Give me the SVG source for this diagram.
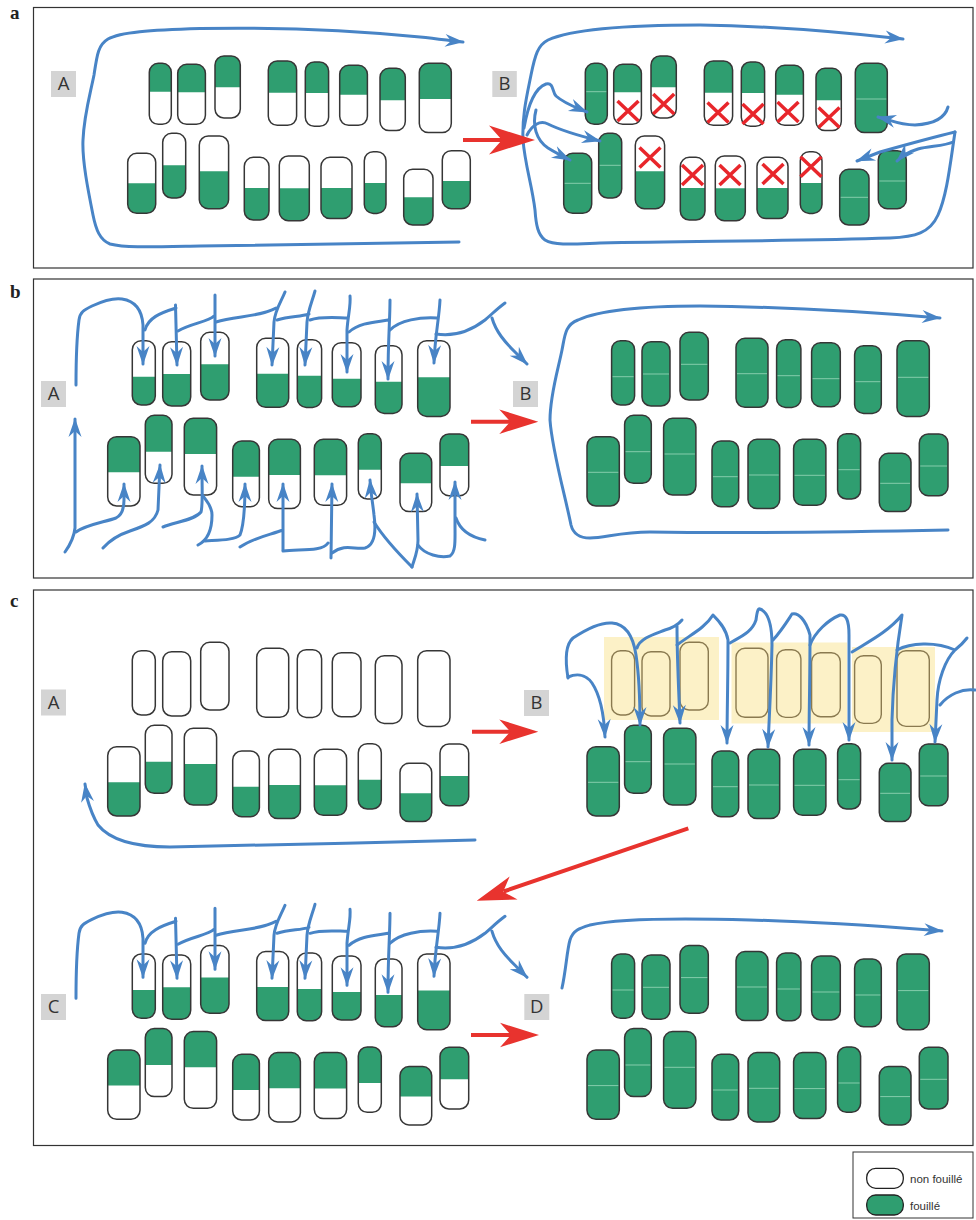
<svg xmlns="http://www.w3.org/2000/svg" width="976" height="1220" viewBox="0 0 976 1220">
<style>
.o{fill:none;stroke:#363636;stroke-width:1.5}
.g{fill:#2f9e70}
.f{fill:#2f9e70;stroke:#363636;stroke-width:1.5}
.l{fill:none;stroke:#8fd1b2;stroke-width:0.9}
.p{fill:none;stroke:#8a7a50;stroke-width:1.4}
.fr{fill:none;stroke:#333;stroke-width:1.2}
.bl{fill:none;stroke:#4884c6;stroke-width:3;stroke-linecap:round;stroke-linejoin:round}
.ar{marker-end:url(#ab)}
.rl{fill:none;stroke:#e8332e;stroke-width:4}
.rh{fill:#e8332e}
.x{fill:none;stroke:#e8262b;stroke-width:3.5}
.lb{fill:#d4d4d4}
.lt{font-family:"Open Sans","Liberation Sans",sans-serif;font-size:18.5px;fill:#333;text-anchor:middle}
.pl{font-family:"Liberation Serif",serif;font-weight:bold;font-size:19px;fill:#222}
.lg{font-family:"Liberation Sans",Arial,sans-serif;font-size:11.5px;fill:#333}
.yz{fill:#fcf1c7}
</style>
<defs>
<marker id="ab" viewBox="-20 -8 22 16" refX="0" refY="0" markerWidth="22" markerHeight="16" markerUnits="userSpaceOnUse" orient="auto"><path d="M1,0 L-18,-6.5 L-12,0 L-18,6.5 Z" fill="#4884c6"/></marker>
<path id="rhd" d="M0,0 L-39,-12.2 L-28,0 L-39,12.2 Z"/>
<path id="xm" d="M-10.5,-10 L10.5,10 M10.5,-10 L-10.5,10"/>
<rect id="rAt1" x="149.3" y="63.3" width="22" height="61" rx="9"/>
<rect id="rAt2" x="177.7" y="64.3" width="27.7" height="60" rx="9"/>
<rect id="rAt3" x="215" y="56" width="25.3" height="62" rx="9"/>
<rect id="rAt4" x="268.3" y="61" width="28.3" height="64.3" rx="9"/>
<rect id="rAt5" x="305.3" y="62" width="23.3" height="64.3" rx="9"/>
<rect id="rAt6" x="339.7" y="65.3" width="27.7" height="60" rx="9"/>
<rect id="rAt7" x="380" y="68.3" width="25.3" height="62.3" rx="9"/>
<rect id="rAt8" x="419.3" y="63.3" width="32" height="69.3" rx="9"/>
<rect id="rAb1" x="127.7" y="153.3" width="28" height="60" rx="9"/>
<rect id="rAb2" x="162.7" y="133.3" width="23" height="64.7" rx="9"/>
<rect id="rAb3" x="199.3" y="136" width="29.3" height="72.7" rx="9"/>
<rect id="rAb4" x="244.3" y="157.3" width="24.7" height="62.7" rx="9"/>
<rect id="rAb5" x="279.3" y="156" width="30" height="64.7" rx="9"/>
<rect id="rAb6" x="321" y="157.3" width="31" height="61.3" rx="9"/>
<rect id="rAb7" x="364.3" y="151.7" width="21.7" height="61.7" rx="9"/>
<rect id="rAb8" x="403.7" y="169.3" width="29.3" height="55.7" rx="9"/>
<rect id="rAb9" x="442.3" y="150.7" width="28" height="58" rx="9"/>
<path id="gAt1" d="M149.3,91.7 V72.3 A9 9 0 0 1 158.3,63.3 H162.3 A9 9 0 0 1 171.3,72.3 V91.7Z"/>
<path id="gAt2" d="M177.7,92.3 V73.3 A9 9 0 0 1 186.7,64.3 H196.4 A9 9 0 0 1 205.4,73.3 V92.3Z"/>
<path id="gAt3" d="M215,87.3 V65 A9 9 0 0 1 224,56 H231.3 A9 9 0 0 1 240.3,65 V87.3Z"/>
<path id="gAt4" d="M268.3,92.7 V70 A9 9 0 0 1 277.3,61 H287.6 A9 9 0 0 1 296.6,70 V92.7Z"/>
<path id="gAt5" d="M305.3,93 V71 A9 9 0 0 1 314.3,62 H319.6 A9 9 0 0 1 328.6,71 V93Z"/>
<path id="gAt6" d="M339.7,94.7 V74.3 A9 9 0 0 1 348.7,65.3 H358.4 A9 9 0 0 1 367.4,74.3 V94.7Z"/>
<path id="gAt7" d="M380,100.3 V77.3 A9 9 0 0 1 389,68.3 H396.3 A9 9 0 0 1 405.3,77.3 V100.3Z"/>
<path id="gAt8" d="M419.3,99 V72.3 A9 9 0 0 1 428.3,63.3 H442.3 A9 9 0 0 1 451.3,72.3 V99Z"/>
<path id="gAb1" d="M127.7,183.3 V204.3 A9 9 0 0 0 136.7,213.3 H146.7 A9 9 0 0 0 155.7,204.3 V183.3Z"/>
<path id="gAb2" d="M162.7,165.3 V189 A9 9 0 0 0 171.7,198 H176.7 A9 9 0 0 0 185.7,189 V165.3Z"/>
<path id="gAb3" d="M199.3,171.3 V199.7 A9 9 0 0 0 208.3,208.7 H219.6 A9 9 0 0 0 228.6,199.7 V171.3Z"/>
<path id="gAb4" d="M244.3,188 V211 A9 9 0 0 0 253.3,220 H260 A9 9 0 0 0 269,211 V188Z"/>
<path id="gAb5" d="M279.3,188.3 V211.7 A9 9 0 0 0 288.3,220.7 H300.3 A9 9 0 0 0 309.3,211.7 V188.3Z"/>
<path id="gAb6" d="M321,188 V209.6 A9 9 0 0 0 330,218.6 H343 A9 9 0 0 0 352,209.6 V188Z"/>
<path id="gAb7" d="M364.3,183 V204.4 A9 9 0 0 0 373.3,213.4 H377 A9 9 0 0 0 386,204.4 V183Z"/>
<path id="gAb8" d="M403.7,197.3 V216 A9 9 0 0 0 412.7,225 H424 A9 9 0 0 0 433,216 V197.3Z"/>
<path id="gAb9" d="M442.3,181 V199.7 A9 9 0 0 0 451.3,208.7 H461.3 A9 9 0 0 0 470.3,199.7 V181Z"/>
<path id="lAt1" d="M150.3,91.7 H170.3"/>
<path id="lAt8" d="M420.3,99 H450.3"/>
<path id="lAb1" d="M128.7,183.3 H154.7"/>
<path id="lAb2" d="M163.7,165.3 H184.7"/>
<path id="lAb8" d="M404.7,197.3 H432"/>
<path id="lAb9" d="M443.3,181 H469.3"/>
<rect id="rBt1" x="132.3" y="340.7" width="23" height="64.3" rx="9"/>
<rect id="rBt2" x="162.7" y="341.7" width="28" height="64.3" rx="9"/>
<rect id="rBt3" x="200.7" y="332.3" width="28.3" height="67.7" rx="9"/>
<rect id="rBt4" x="256.7" y="338.3" width="32" height="69" rx="9"/>
<rect id="rBt5" x="297.3" y="339.7" width="24.3" height="67.7" rx="9"/>
<rect id="rBt6" x="332.3" y="342.7" width="28.7" height="64" rx="9"/>
<rect id="rBt7" x="375.3" y="345.7" width="26.7" height="67.7" rx="9"/>
<rect id="rBt8" x="417.7" y="340.7" width="32.3" height="75.7" rx="9"/>
<rect id="rBb1" x="107.7" y="436.7" width="32.3" height="69.3" rx="9"/>
<rect id="rBb2" x="145.3" y="415.3" width="26.7" height="68" rx="9"/>
<rect id="rBb3" x="184.3" y="418.3" width="32.3" height="76.7" rx="9"/>
<rect id="rBb4" x="232.7" y="441" width="26.7" height="65.7" rx="9"/>
<rect id="rBb5" x="268.7" y="439.3" width="31.7" height="69.3" rx="9"/>
<rect id="rBb6" x="314.3" y="439.3" width="32.3" height="66" rx="9"/>
<rect id="rBb7" x="358.3" y="433.7" width="23" height="65.3" rx="9"/>
<rect id="rBb8" x="400" y="453.3" width="31.7" height="58.3" rx="9"/>
<rect id="rBb9" x="440" y="434" width="28.7" height="61.7" rx="9"/>
<path id="gBt1" d="M132.3,376.7 V396 A9 9 0 0 0 141.3,405 H146.3 A9 9 0 0 0 155.3,396 V376.7Z"/>
<path id="gBt2" d="M162.7,374 V397 A9 9 0 0 0 171.7,406 H181.7 A9 9 0 0 0 190.7,397 V374Z"/>
<path id="gBt3" d="M200.7,364.3 V391 A9 9 0 0 0 209.7,400 H220 A9 9 0 0 0 229,391 V364.3Z"/>
<path id="gBt4" d="M256.7,373.7 V398.3 A9 9 0 0 0 265.7,407.3 H279.7 A9 9 0 0 0 288.7,398.3 V373.7Z"/>
<path id="gBt5" d="M297.3,375.7 V398.4 A9 9 0 0 0 306.3,407.4 H312.6 A9 9 0 0 0 321.6,398.4 V375.7Z"/>
<path id="gBt6" d="M332.3,378.7 V397.7 A9 9 0 0 0 341.3,406.7 H352 A9 9 0 0 0 361,397.7 V378.7Z"/>
<path id="gBt7" d="M375.3,381.7 V404.4 A9 9 0 0 0 384.3,413.4 H393 A9 9 0 0 0 402,404.4 V381.7Z"/>
<path id="gBt8" d="M417.7,377.3 V407.4 A9 9 0 0 0 426.7,416.4 H441 A9 9 0 0 0 450,407.4 V377.3Z"/>
<path id="gBbT1" d="M107.7,472.3 V445.7 A9 9 0 0 1 116.7,436.7 H131 A9 9 0 0 1 140,445.7 V472.3Z"/>
<path id="gBbT2" d="M145.3,451.7 V424.3 A9 9 0 0 1 154.3,415.3 H163 A9 9 0 0 1 172,424.3 V451.7Z"/>
<path id="gBbT3" d="M184.3,454 V427.3 A9 9 0 0 1 193.3,418.3 H207.6 A9 9 0 0 1 216.6,427.3 V454Z"/>
<path id="gBbT4" d="M232.7,476.7 V450 A9 9 0 0 1 241.7,441 H250.4 A9 9 0 0 1 259.4,450 V476.7Z"/>
<path id="gBbT5" d="M268.7,475 V448.3 A9 9 0 0 1 277.7,439.3 H291.4 A9 9 0 0 1 300.4,448.3 V475Z"/>
<path id="gBbT6" d="M314.3,475.3 V448.3 A9 9 0 0 1 323.3,439.3 H337.6 A9 9 0 0 1 346.6,448.3 V475.3Z"/>
<path id="gBbT7" d="M358.3,469.7 V442.7 A9 9 0 0 1 367.3,433.7 H372.3 A9 9 0 0 1 381.3,442.7 V469.7Z"/>
<path id="gBbT8" d="M400,483.3 V462.3 A9 9 0 0 1 409,453.3 H422.7 A9 9 0 0 1 431.7,462.3 V483.3Z"/>
<path id="gBbT9" d="M440,466 V443 A9 9 0 0 1 449,434 H459.7 A9 9 0 0 1 468.7,443 V466Z"/>
<path id="gBbB1" d="M107.7,472.3 V497 A9 9 0 0 0 116.7,506 H131 A9 9 0 0 0 140,497 V472.3Z"/>
<path id="gBbB2" d="M145.3,451.7 V474.3 A9 9 0 0 0 154.3,483.3 H163 A9 9 0 0 0 172,474.3 V451.7Z"/>
<path id="gBbB3" d="M184.3,454 V486 A9 9 0 0 0 193.3,495 H207.6 A9 9 0 0 0 216.6,486 V454Z"/>
<path id="gBbB4" d="M232.7,476.7 V497.7 A9 9 0 0 0 241.7,506.7 H250.4 A9 9 0 0 0 259.4,497.7 V476.7Z"/>
<path id="gBbB5" d="M268.7,475 V499.6 A9 9 0 0 0 277.7,508.6 H291.4 A9 9 0 0 0 300.4,499.6 V475Z"/>
<path id="gBbB6" d="M314.3,475.3 V496.3 A9 9 0 0 0 323.3,505.3 H337.6 A9 9 0 0 0 346.6,496.3 V475.3Z"/>
<path id="gBbB7" d="M358.3,469.7 V490 A9 9 0 0 0 367.3,499 H372.3 A9 9 0 0 0 381.3,490 V469.7Z"/>
<path id="gBbB8" d="M400,483.3 V502.6 A9 9 0 0 0 409,511.6 H422.7 A9 9 0 0 0 431.7,502.6 V483.3Z"/>
<path id="gBbB9" d="M440,466 V486.7 A9 9 0 0 0 449,495.7 H459.7 A9 9 0 0 0 468.7,486.7 V466Z"/>
<path id="lBt1" d="M133.3,376.7 H154.3"/>
<path id="lBt2" d="M163.7,374 H189.7"/>
<path id="lBt3" d="M201.7,364.3 H228"/>
<path id="lBt4" d="M257.7,373.7 H287.7"/>
<path id="lBt5" d="M298.3,375.7 H320.6"/>
<path id="lBt6" d="M333.3,378.7 H360"/>
<path id="lBt7" d="M376.3,381.7 H401"/>
<path id="lBt8" d="M418.7,377.3 H449"/>
<path id="lBb1" d="M108.7,472.3 H139"/>
<path id="lBb2" d="M146.3,451.7 H171"/>
<path id="lBb3" d="M185.3,454 H215.6"/>
<path id="lBb4" d="M233.7,476.7 H258.4"/>
<path id="lBb5" d="M269.7,475 H299.4"/>
<path id="lBb6" d="M315.3,475.3 H345.6"/>
<path id="lBb7" d="M359.3,469.7 H380.3"/>
<path id="lBb8" d="M401,483.3 H430.7"/>
<path id="lBb9" d="M441,466 H467.7"/>
</defs>

<rect width="976" height="1220" fill="#fff"/>

<g id="frames">
<rect class="fr" x="33.5" y="7.5" width="939.5" height="260.5"/>
<rect class="fr" x="33.5" y="279" width="939.5" height="299"/>
<rect class="fr" x="33.5" y="590" width="939.5" height="555.5"/>
<text class="pl" x="10" y="19">a</text>
<text class="pl" x="10" y="298">b</text>
<text class="pl" x="10" y="607">c</text>
</g>

<g id="labels">
<g id="lab-a-A"><rect class="lb" x="51" y="71" width="25" height="26"/><text class="lt" x="63.5" y="90">A</text></g>
<g id="lab-a-B"><rect class="lb" x="492.3" y="71" width="24.5" height="26"/><text class="lt" x="504.5" y="90">B</text></g>
<g id="lab-b-A"><rect class="lb" x="41" y="381" width="25" height="26"/><text class="lt" x="53.5" y="400">A</text></g>
<g id="lab-b-B"><rect class="lb" x="513" y="381" width="25" height="26"/><text class="lt" x="525.5" y="400">B</text></g>
<g id="lab-c-A"><rect class="lb" x="41" y="689.5" width="25" height="26"/><text class="lt" x="53.5" y="708.5">A</text></g>
<g id="lab-c-B"><rect class="lb" x="524" y="690" width="25" height="26"/><text class="lt" x="536.5" y="709">B</text></g>
<g id="lab-c-C"><rect class="lb" x="41" y="994" width="25" height="26"/><text class="lt" x="53.5" y="1013">C</text></g>
<g id="lab-c-D"><rect class="lb" x="524.3" y="994" width="25" height="26"/><text class="lt" x="536.8" y="1013">D</text></g>
</g>

<g id="cB-zones">
<rect class="yz" x="604" y="637" width="115" height="83"/>
<rect class="yz" x="731.5" y="642.5" width="115.5" height="81"/>
<rect class="yz" x="852" y="647" width="83" height="85"/>
</g>

<g id="panel-a-A">
<g id="aA-t1"><use href="#gAt1" class="g"/><use href="#rAt1" class="o"/></g>
<g id="aA-t2"><use href="#gAt2" class="g"/><use href="#rAt2" class="o"/></g>
<g id="aA-t3"><use href="#gAt3" class="g"/><use href="#rAt3" class="o"/></g>
<g id="aA-t4"><use href="#gAt4" class="g"/><use href="#rAt4" class="o"/></g>
<g id="aA-t5"><use href="#gAt5" class="g"/><use href="#rAt5" class="o"/></g>
<g id="aA-t6"><use href="#gAt6" class="g"/><use href="#rAt6" class="o"/></g>
<g id="aA-t7"><use href="#gAt7" class="g"/><use href="#rAt7" class="o"/></g>
<g id="aA-t8"><use href="#gAt8" class="g"/><use href="#rAt8" class="o"/></g>
<g id="aA-b1"><use href="#gAb1" class="g"/><use href="#rAb1" class="o"/></g>
<g id="aA-b2"><use href="#gAb2" class="g"/><use href="#rAb2" class="o"/></g>
<g id="aA-b3"><use href="#gAb3" class="g"/><use href="#rAb3" class="o"/></g>
<g id="aA-b4"><use href="#gAb4" class="g"/><use href="#rAb4" class="o"/></g>
<g id="aA-b5"><use href="#gAb5" class="g"/><use href="#rAb5" class="o"/></g>
<g id="aA-b6"><use href="#gAb6" class="g"/><use href="#rAb6" class="o"/></g>
<g id="aA-b7"><use href="#gAb7" class="g"/><use href="#rAb7" class="o"/></g>
<g id="aA-b8"><use href="#gAb8" class="g"/><use href="#rAb8" class="o"/></g>
<g id="aA-b9"><use href="#gAb9" class="g"/><use href="#rAb9" class="o"/></g>
</g>

<g id="panel-a-B" transform="translate(436,0)">
<g id="aB-t1"><use href="#rAt1" class="f"/><use href="#lAt1" class="l"/></g>
<g id="aB-t2"><use href="#gAt2" class="g"/><use href="#rAt2" class="o"/><use href="#xm" class="x" x="192" y="111"/></g>
<g id="aB-t3"><use href="#gAt3" class="g"/><use href="#rAt3" class="o"/><use href="#xm" class="x" x="227.7" y="104"/></g>
<g id="aB-t4"><use href="#gAt4" class="g"/><use href="#rAt4" class="o"/><use href="#xm" class="x" x="282" y="112.5"/></g>
<g id="aB-t5"><use href="#gAt5" class="g"/><use href="#rAt5" class="o"/><use href="#xm" class="x" x="317" y="114"/></g>
<g id="aB-t6"><use href="#gAt6" class="g"/><use href="#rAt6" class="o"/><use href="#xm" class="x" x="352" y="112"/></g>
<g id="aB-t7"><use href="#gAt7" class="g"/><use href="#rAt7" class="o"/><use href="#xm" class="x" x="393" y="117.5"/></g>
<g id="aB-t8"><use href="#rAt8" class="f"/><use href="#lAt8" class="l"/></g>
<g id="aB-b1"><use href="#rAb1" class="f"/><use href="#lAb1" class="l"/></g>
<g id="aB-b2"><use href="#rAb2" class="f"/><use href="#lAb2" class="l"/></g>
<g id="aB-b3"><use href="#gAb3" class="g"/><use href="#rAb3" class="o"/><use href="#xm" class="x" x="214" y="157.5"/></g>
<g id="aB-b4"><use href="#gAb4" class="g"/><use href="#rAb4" class="o"/><use href="#xm" class="x" x="256.5" y="175"/></g>
<g id="aB-b5"><use href="#gAb5" class="g"/><use href="#rAb5" class="o"/><use href="#xm" class="x" x="294" y="175"/></g>
<g id="aB-b6"><use href="#gAb6" class="g"/><use href="#rAb6" class="o"/><use href="#xm" class="x" x="337" y="174"/></g>
<g id="aB-b7"><use href="#gAb7" class="g"/><use href="#rAb7" class="o"/><use href="#xm" class="x" x="375" y="166.7"/></g>
<g id="aB-b8"><use href="#rAb8" class="f"/><use href="#lAb8" class="l"/></g>
<g id="aB-b9"><use href="#rAb9" class="f"/><use href="#lAb9" class="l"/></g>
</g>

<g id="panel-b-A">
<g id="bA-t1"><use href="#gBt1" class="g"/><use href="#rBt1" class="o"/></g>
<g id="bA-t2"><use href="#gBt2" class="g"/><use href="#rBt2" class="o"/></g>
<g id="bA-t3"><use href="#gBt3" class="g"/><use href="#rBt3" class="o"/></g>
<g id="bA-t4"><use href="#gBt4" class="g"/><use href="#rBt4" class="o"/></g>
<g id="bA-t5"><use href="#gBt5" class="g"/><use href="#rBt5" class="o"/></g>
<g id="bA-t6"><use href="#gBt6" class="g"/><use href="#rBt6" class="o"/></g>
<g id="bA-t7"><use href="#gBt7" class="g"/><use href="#rBt7" class="o"/></g>
<g id="bA-t8"><use href="#gBt8" class="g"/><use href="#rBt8" class="o"/></g>
<g id="bA-b1"><use href="#gBbT1" class="g"/><use href="#rBb1" class="o"/></g>
<g id="bA-b2"><use href="#gBbT2" class="g"/><use href="#rBb2" class="o"/></g>
<g id="bA-b3"><use href="#gBbT3" class="g"/><use href="#rBb3" class="o"/></g>
<g id="bA-b4"><use href="#gBbT4" class="g"/><use href="#rBb4" class="o"/></g>
<g id="bA-b5"><use href="#gBbT5" class="g"/><use href="#rBb5" class="o"/></g>
<g id="bA-b6"><use href="#gBbT6" class="g"/><use href="#rBb6" class="o"/></g>
<g id="bA-b7"><use href="#gBbT7" class="g"/><use href="#rBb7" class="o"/></g>
<g id="bA-b8"><use href="#gBbT8" class="g"/><use href="#rBb8" class="o"/></g>
<g id="bA-b9"><use href="#gBbT9" class="g"/><use href="#rBb9" class="o"/></g>
</g>

<g id="panel-b-B" transform="translate(479.3,0)">
<g id="bB-t1"><use href="#rBt1" class="f"/><use href="#lBt1" class="l"/></g>
<g id="bB-t2"><use href="#rBt2" class="f"/><use href="#lBt2" class="l"/></g>
<g id="bB-t3"><use href="#rBt3" class="f"/><use href="#lBt3" class="l"/></g>
<g id="bB-t4"><use href="#rBt4" class="f"/><use href="#lBt4" class="l"/></g>
<g id="bB-t5"><use href="#rBt5" class="f"/><use href="#lBt5" class="l"/></g>
<g id="bB-t6"><use href="#rBt6" class="f"/><use href="#lBt6" class="l"/></g>
<g id="bB-t7"><use href="#rBt7" class="f"/><use href="#lBt7" class="l"/></g>
<g id="bB-t8"><use href="#rBt8" class="f"/><use href="#lBt8" class="l"/></g>
<g id="bB-b1"><use href="#rBb1" class="f"/><use href="#lBb1" class="l"/></g>
<g id="bB-b2"><use href="#rBb2" class="f"/><use href="#lBb2" class="l"/></g>
<g id="bB-b3"><use href="#rBb3" class="f"/><use href="#lBb3" class="l"/></g>
<g id="bB-b4"><use href="#rBb4" class="f"/><use href="#lBb4" class="l"/></g>
<g id="bB-b5"><use href="#rBb5" class="f"/><use href="#lBb5" class="l"/></g>
<g id="bB-b6"><use href="#rBb6" class="f"/><use href="#lBb6" class="l"/></g>
<g id="bB-b7"><use href="#rBb7" class="f"/><use href="#lBb7" class="l"/></g>
<g id="bB-b8"><use href="#rBb8" class="f"/><use href="#lBb8" class="l"/></g>
<g id="bB-b9"><use href="#rBb9" class="f"/><use href="#lBb9" class="l"/></g>
</g>

<g id="panel-c-A" transform="translate(0,310)">
<g id="cA-t1"><use href="#rBt1" class="o"/></g>
<g id="cA-t2"><use href="#rBt2" class="o"/></g>
<g id="cA-t3"><use href="#rBt3" class="o"/></g>
<g id="cA-t4"><use href="#rBt4" class="o"/></g>
<g id="cA-t5"><use href="#rBt5" class="o"/></g>
<g id="cA-t6"><use href="#rBt6" class="o"/></g>
<g id="cA-t7"><use href="#rBt7" class="o"/></g>
<g id="cA-t8"><use href="#rBt8" class="o"/></g>
<g id="cA-b1"><use href="#gBbB1" class="g"/><use href="#rBb1" class="o"/></g>
<g id="cA-b2"><use href="#gBbB2" class="g"/><use href="#rBb2" class="o"/></g>
<g id="cA-b3"><use href="#gBbB3" class="g"/><use href="#rBb3" class="o"/></g>
<g id="cA-b4"><use href="#gBbB4" class="g"/><use href="#rBb4" class="o"/></g>
<g id="cA-b5"><use href="#gBbB5" class="g"/><use href="#rBb5" class="o"/></g>
<g id="cA-b6"><use href="#gBbB6" class="g"/><use href="#rBb6" class="o"/></g>
<g id="cA-b7"><use href="#gBbB7" class="g"/><use href="#rBb7" class="o"/></g>
<g id="cA-b8"><use href="#gBbB8" class="g"/><use href="#rBb8" class="o"/></g>
<g id="cA-b9"><use href="#gBbB9" class="g"/><use href="#rBb9" class="o"/></g>
</g>

<g id="panel-c-B" transform="translate(479.3,310)">
<g id="cB-t1"><use href="#rBt1" class="p"/></g>
<g id="cB-t2"><use href="#rBt2" class="p"/></g>
<g id="cB-t3"><use href="#rBt3" class="p"/></g>
<g id="cB-t4"><use href="#rBt4" class="p"/></g>
<g id="cB-t5"><use href="#rBt5" class="p"/></g>
<g id="cB-t6"><use href="#rBt6" class="p"/></g>
<g id="cB-t7"><use href="#rBt7" class="p"/></g>
<g id="cB-t8"><use href="#rBt8" class="p"/></g>
<g id="cB-b1"><use href="#rBb1" class="f"/><use href="#lBb1" class="l"/></g>
<g id="cB-b2"><use href="#rBb2" class="f"/><use href="#lBb2" class="l"/></g>
<g id="cB-b3"><use href="#rBb3" class="f"/><use href="#lBb3" class="l"/></g>
<g id="cB-b4"><use href="#rBb4" class="f"/><use href="#lBb4" class="l"/></g>
<g id="cB-b5"><use href="#rBb5" class="f"/><use href="#lBb5" class="l"/></g>
<g id="cB-b6"><use href="#rBb6" class="f"/><use href="#lBb6" class="l"/></g>
<g id="cB-b7"><use href="#rBb7" class="f"/><use href="#lBb7" class="l"/></g>
<g id="cB-b8"><use href="#rBb8" class="f"/><use href="#lBb8" class="l"/></g>
<g id="cB-b9"><use href="#rBb9" class="f"/><use href="#lBb9" class="l"/></g>
</g>

<g id="panel-c-C" transform="translate(0,613.3)">
<g id="cC-t1"><use href="#gBt1" class="g"/><use href="#rBt1" class="o"/></g>
<g id="cC-t2"><use href="#gBt2" class="g"/><use href="#rBt2" class="o"/></g>
<g id="cC-t3"><use href="#gBt3" class="g"/><use href="#rBt3" class="o"/></g>
<g id="cC-t4"><use href="#gBt4" class="g"/><use href="#rBt4" class="o"/></g>
<g id="cC-t5"><use href="#gBt5" class="g"/><use href="#rBt5" class="o"/></g>
<g id="cC-t6"><use href="#gBt6" class="g"/><use href="#rBt6" class="o"/></g>
<g id="cC-t7"><use href="#gBt7" class="g"/><use href="#rBt7" class="o"/></g>
<g id="cC-t8"><use href="#gBt8" class="g"/><use href="#rBt8" class="o"/></g>
<g id="cC-b1"><use href="#gBbT1" class="g"/><use href="#rBb1" class="o"/></g>
<g id="cC-b2"><use href="#gBbT2" class="g"/><use href="#rBb2" class="o"/></g>
<g id="cC-b3"><use href="#gBbT3" class="g"/><use href="#rBb3" class="o"/></g>
<g id="cC-b4"><use href="#gBbT4" class="g"/><use href="#rBb4" class="o"/></g>
<g id="cC-b5"><use href="#gBbT5" class="g"/><use href="#rBb5" class="o"/></g>
<g id="cC-b6"><use href="#gBbT6" class="g"/><use href="#rBb6" class="o"/></g>
<g id="cC-b7"><use href="#gBbT7" class="g"/><use href="#rBb7" class="o"/></g>
<g id="cC-b8"><use href="#gBbT8" class="g"/><use href="#rBb8" class="o"/></g>
<g id="cC-b9"><use href="#gBbT9" class="g"/><use href="#rBb9" class="o"/></g>
</g>

<g id="panel-c-D" transform="translate(479.3,613.3)">
<g id="cD-t1"><use href="#rBt1" class="f"/><use href="#lBt1" class="l"/></g>
<g id="cD-t2"><use href="#rBt2" class="f"/><use href="#lBt2" class="l"/></g>
<g id="cD-t3"><use href="#rBt3" class="f"/><use href="#lBt3" class="l"/></g>
<g id="cD-t4"><use href="#rBt4" class="f"/><use href="#lBt4" class="l"/></g>
<g id="cD-t5"><use href="#rBt5" class="f"/><use href="#lBt5" class="l"/></g>
<g id="cD-t6"><use href="#rBt6" class="f"/><use href="#lBt6" class="l"/></g>
<g id="cD-t7"><use href="#rBt7" class="f"/><use href="#lBt7" class="l"/></g>
<g id="cD-t8"><use href="#rBt8" class="f"/><use href="#lBt8" class="l"/></g>
<g id="cD-b1"><use href="#rBb1" class="f"/><use href="#lBb1" class="l"/></g>
<g id="cD-b2"><use href="#rBb2" class="f"/><use href="#lBb2" class="l"/></g>
<g id="cD-b3"><use href="#rBb3" class="f"/><use href="#lBb3" class="l"/></g>
<g id="cD-b4"><use href="#rBb4" class="f"/><use href="#lBb4" class="l"/></g>
<g id="cD-b5"><use href="#rBb5" class="f"/><use href="#lBb5" class="l"/></g>
<g id="cD-b6"><use href="#rBb6" class="f"/><use href="#lBb6" class="l"/></g>
<g id="cD-b7"><use href="#rBb7" class="f"/><use href="#lBb7" class="l"/></g>
<g id="cD-b8"><use href="#rBb8" class="f"/><use href="#lBb8" class="l"/></g>
<g id="cD-b9"><use href="#rBb9" class="f"/><use href="#lBb9" class="l"/></g>
</g>

<g id="connectors">
<g id="con-a">
<path class="bl ar" d="M459,242 C 380,244 300,245 200,246 C 150,247 125,248 110,244 C 100,240 96,230 93,215 C 88,190 82,160 83,140 C 84,115 90,95 94,75 C 97,55 98,45 108,39 C 120,32 150,30 200,28.5 C 280,27 360,31 420,37 C 440,39 452,41 463,42"/>
<path class="bl ar" d="M955,132 C 950,165 947,195 938,215 C 930,233 915,237 890,238 C 800,241 700,241 600,243 C 575,244 555,246 545,240 C 538,235 536,225 535,210 C 532,185 525,165 523,140 C 522,115 527,95 531,75 C 535,55 538,45 548,40 C 570,30 620,25 700,25 C 780,26 850,33 903,39"/>
<path class="bl ar" d="M524,128 C 528,105 535,88 546,84 C 554,82 552,92 556,96 C 565,104 575,107 587,112"/>
<path class="bl ar" d="M527,135 C 532,125 540,120 548,124 C 560,130 580,136 600,141"/>
<path class="bl ar" d="M536,110 C 532,125 536,140 548,148 C 556,153 562,156 570,160"/>
<path class="bl ar" d="M948,107 C 945,118 935,124 915,125 C 900,125 890,120 878,117"/>
<path class="bl ar" d="M955,132 C 930,138 905,145 880,152 L857,161"/>
<path class="bl ar" d="M953,142 C 945,146 930,146 918,149 C 908,152 902,156 897,161"/>
<path class="rl" d="M463,140 H506"/>
<use href="#rhd" class="rh" transform="translate(535,140) scale(1.18)"/>
</g>
<g id="con-b">
<g id="net-top">
<path class="bl ar" d="M76,385 C 76,360 77,335 79,320 C 80,312 84,310 92,306 C 105,300 115,298 122,299 C 135,301 142,310 143,325 L143,364"/>
<path class="bl ar" d="M145,330 C 148,318 160,313 176,308 M175.5,305 L177,365"/>
<path class="bl ar" d="M178,331 C 192,323 208,322 214,316 M215,295 L215,356"/>
<path class="bl ar" d="M216,322 C 235,316 260,317 276,308 M285,292 C 281,302 275,310 274,322 L272,365"/>
<path class="bl ar" d="M277,320 C 290,316 300,317 309,314 M315,291 C 312,302 308,310 307,322 L305,365"/>
<path class="bl ar" d="M310,320 C 322,316 338,318 348,318 M350,296 C 351,305 348,315 347,330 L347,372"/>
<path class="bl ar" d="M349,332 C 360,322 378,322 388,320 M390,300 C 390,320 388,340 388,379"/>
<path class="bl ar" d="M390,330 C 400,320 420,317 437,318 M440,300 C 439,320 435,335 434,363"/>
<path class="bl ar" d="M436,334 C 455,337 472,330 485,320 C 492,314 498,308 505,303 M492,318 C 496,332 505,342 515,352 L527,364"/>
</g>
<g id="net-bottom">
<path class="bl ar" d="M65,552 C 70,545 74,538 75,528 L75,419"/>
<path class="bl ar" d="M76,532 C 85,525 105,522 116,518 C 122,515 124,508 124,500 L124,484"/>
<path class="bl ar" d="M103,548 C 110,540 118,535 130,531 C 145,526 155,522 158,510 L160,465"/>
<path class="bl ar" d="M163,527 C 175,522 195,520 201,512 C 203,505 202,495 202,466"/>
<path class="bl" d="M198,545 C 208,540 212,530 212,515 C 212,506 206,500 203,496"/>
<path class="bl ar" d="M205,541 C 220,540 235,540 240,535 C 244,525 245,505 245,484"/>
<path class="bl ar" d="M240,547 C 255,537 270,535 283,530 M283,550 L283,484"/>
<path class="bl ar" d="M283,551 C 300,549 322,552 328,543 M331,558 L332,484"/>
<path class="bl ar" d="M332,553 C 345,543 355,550 365,548 C 375,545 376,530 374,515 C 373,505 371,495 370,480"/>
<path class="bl" d="M374,522 C 385,540 400,555 412,567"/>
<path class="bl ar" d="M412,567 C 414,560 418,552 418,540 L417,494"/>
<path class="bl ar" d="M418,545 C 425,555 440,558 450,556 C 456,552 455,540 455,525 L455,482"/>
<path class="bl" d="M485,540 C 470,537 460,530 456,518"/>
</g>
<path class="bl ar" d="M948,530 C 850,532 720,533 650,532 C 620,532 605,538 590,538 C 578,538 573,533 571,525 C 565,495 552,450 550,420 C 550,395 558,370 562,350 C 565,335 565,325 578,320 C 600,310 640,306 700,306 C 800,307 880,313 940,318"/>
<path class="rl" d="M471,421.7 H512"/>
<use href="#rhd" class="rh" transform="translate(538.3,421.7)"/>
</g>
<g id="con-c">
<path class="bl ar" d="M475,840 C 380,842 250,846 170,847 C 135,847 110,840 98,825 C 92,815 89,805 87,798 L85,784"/>
<path class="bl ar" d="M568,678 C 565,660 565,645 573,638 C 585,630 600,622 612,623 C 625,624 633,635 636,655 C 639,675 640,700 640,725"/>
<path class="bl ar" d="M568,677 C 575,674 585,673 592,683 C 600,695 604,715 605,737"/>
<path class="bl ar" d="M637,648 C 640,638 655,634 665,630 C 672,628 678,625 682,620 M677,626 C 677,660 679,695 680,723"/>
<path class="bl ar" d="M677,645 C 690,635 705,628 713,615 C 718,620 726,628 728,640 C 728,680 727,715 727,743"/>
<path class="bl ar" d="M730,643 C 742,636 752,632 756,620 C 757,612 758,608 760,609 C 768,612 772,625 772,645 C 771,690 769,720 768,747"/>
<path class="bl ar" d="M773,640 C 782,630 788,620 792,614 C 798,612 806,620 810,635 C 810,680 809,715 809,745"/>
<path class="bl ar" d="M810,645 C 815,632 828,620 840,615 C 846,614 849,620 849,635 L849,740"/>
<path class="bl ar" d="M852,652 C 868,642 888,632 902,615 C 898,640 893,680 892,720 L892,760"/>
<path class="bl ar" d="M897,650 C 910,643 935,641 955,650 C 960,646 964,642 967,638 M955,650 C 945,660 938,680 937,700 L935,742"/>
<path class="bl" d="M975,690 C 962,688 948,695 940,705"/>
<use href="#net-top" transform="translate(0,613.3)"/>
<path class="bl ar" d="M562,988 C 566,970 567,950 570,940 C 573,930 580,928 590,925 C 620,918 680,918 750,920 C 830,922 890,927 942,931"/>
<path class="rl" d="M472,731.7 H512"/>
<use href="#rhd" class="rh" transform="translate(538.3,731.7)"/>
<path class="rl" d="M688.3,828.3 L503.5,891.5"/>
<use href="#rhd" class="rh" transform="translate(476.7,900.7) rotate(161.1)"/>
<path class="rl" d="M471,1035 H512"/>
<use href="#rhd" class="rh" transform="translate(539,1035)"/>
</g>
</g>

<g id="legend">
<rect x="853" y="1152" width="120" height="66" fill="#fff" stroke="#333" stroke-width="1"/>
<g id="leg-non"><rect x="866.7" y="1168.3" width="36.6" height="20" rx="9" fill="#fff" stroke="#222" stroke-width="1.3"/><text class="lg" x="910" y="1183">non fouillé</text></g>
<g id="leg-fouille"><rect x="866.7" y="1195" width="36.6" height="20" rx="9" fill="#2f9e70" stroke="#222" stroke-width="1.3"/><text class="lg" x="910" y="1210">fouillé</text></g>
</g>
</svg>
